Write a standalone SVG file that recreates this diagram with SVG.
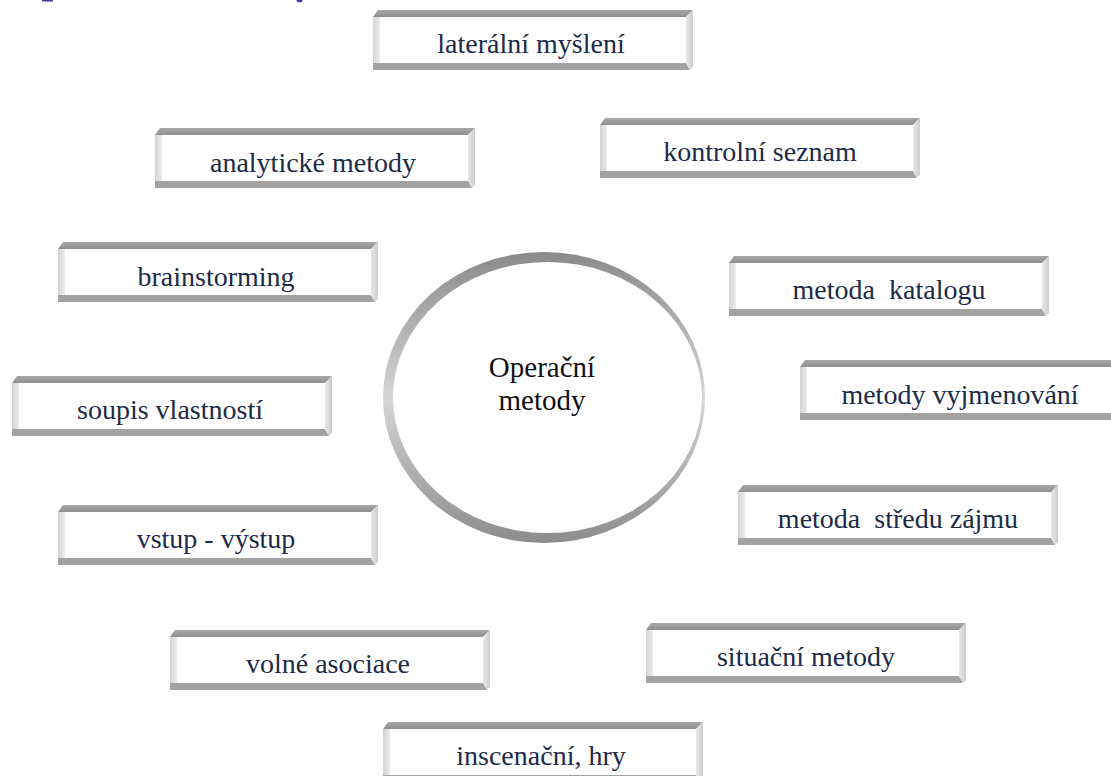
<svg xmlns="http://www.w3.org/2000/svg" xmlns:xlink="http://www.w3.org/1999/xlink" width="1111" height="776" viewBox="0 0 1111 776">
<style>
text{font-family:"Liberation Serif",serif}
.lbl{font-size:28px;fill:#1d2a48;text-anchor:middle;white-space:pre}
.ctr{font-size:29px;fill:#111;text-anchor:middle}
</style>
<defs>
<linearGradient id="gL" x1="0" y1="0" x2="1" y2="0"><stop offset="0" stop-color="#d4d4d4"/><stop offset="1" stop-color="#ececec"/></linearGradient>
<linearGradient id="gR" x1="0" y1="0" x2="1" y2="0"><stop offset="0" stop-color="#e8e8e8"/><stop offset="1" stop-color="#cdcdcd"/></linearGradient>
<linearGradient id="gT" x1="0" y1="0" x2="0" y2="1"><stop offset="0" stop-color="#a8a8a8"/><stop offset="1" stop-color="#8e8e8e"/></linearGradient>
<linearGradient id="gRing" x1="0" y1="0" x2="0" y2="1"><stop offset="0" stop-color="#8a8a8a"/><stop offset="0.5" stop-color="#d6d6d6"/><stop offset="1" stop-color="#8c8c8c"/></linearGradient>
<g id="bevel">
<polygon points="5,0 320,0 313,7 0,7" fill="url(#gT)"/>
<rect x="0" y="7" width="7" height="46" fill="url(#gL)"/>
<polygon points="0,53 313,53 317,60 0,60" fill="#a2a2a2"/>
<polygon points="313,7 320,0 320,57 317,60 313,53" fill="url(#gR)"/>
<rect x="7" y="7" width="306" height="46" fill="#fff"/>
</g>
</defs>
<rect width="1111" height="776" fill="#fff"/>
<g id="fragments">
<rect x="42" y="0" width="11" height="1.5" fill="#3b3ba6"/>
<ellipse cx="299.5" cy="0.5" rx="3" ry="1.8" fill="#3b3ba6"/>
</g>
<g id="connectors"></g>
<g id="center">
<ellipse cx="544" cy="397.5" rx="161" ry="145.5" fill="url(#gRing)"/>
<ellipse cx="547.5" cy="397.5" rx="154.5" ry="135.5" fill="#fff"/>
<text class="ctr" x="542" y="377" font-family="DejaVu Serif">Operační</text>
<text class="ctr" x="542" y="410" font-family="DejaVu Serif">metody</text>
</g>
<g id="n1" transform="translate(373,10)"><use xlink:href="#bevel"/><text class="lbl" x="158" y="43" font-family="Liberation Serif">laterální myšlení</text></g>
<g id="n2" transform="translate(155,128)"><use xlink:href="#bevel"/><text class="lbl" x="158" y="44">analytické metody</text></g>
<g id="n3" transform="translate(600,118)"><use xlink:href="#bevel"/><text class="lbl" x="160" y="43">kontrolní seznam</text></g>
<g id="n4" transform="translate(58,242)"><use xlink:href="#bevel"/><text class="lbl" x="158" y="44">brainstorming</text></g>
<g id="n5" transform="translate(729,256)"><use xlink:href="#bevel"/><text class="lbl" x="160" y="43">metoda  katalogu</text></g>
<g id="n6" transform="translate(12,376)"><use xlink:href="#bevel"/><text class="lbl" x="158" y="43">soupis vlastností</text></g>
<g id="n7" transform="translate(800,360)"><use xlink:href="#bevel"/><text class="lbl" x="160" y="44">metody vyjmenování</text></g>
<g id="n8" transform="translate(58,505)"><use xlink:href="#bevel"/><text class="lbl" x="158" y="43">vstup - výstup</text></g>
<g id="n9" transform="translate(738,485)"><use xlink:href="#bevel"/><text class="lbl" x="160" y="43">metoda  středu zájmu</text></g>
<g id="n10" transform="translate(170,630)"><use xlink:href="#bevel"/><text class="lbl" x="158" y="43">volné asociace</text></g>
<g id="n11" transform="translate(646,623)"><use xlink:href="#bevel"/><text class="lbl" x="160" y="43">situační metody</text></g>
<g id="n12" transform="translate(383,722)"><use xlink:href="#bevel"/><text class="lbl" x="158" y="43">inscenační, hry</text></g>
</svg>
